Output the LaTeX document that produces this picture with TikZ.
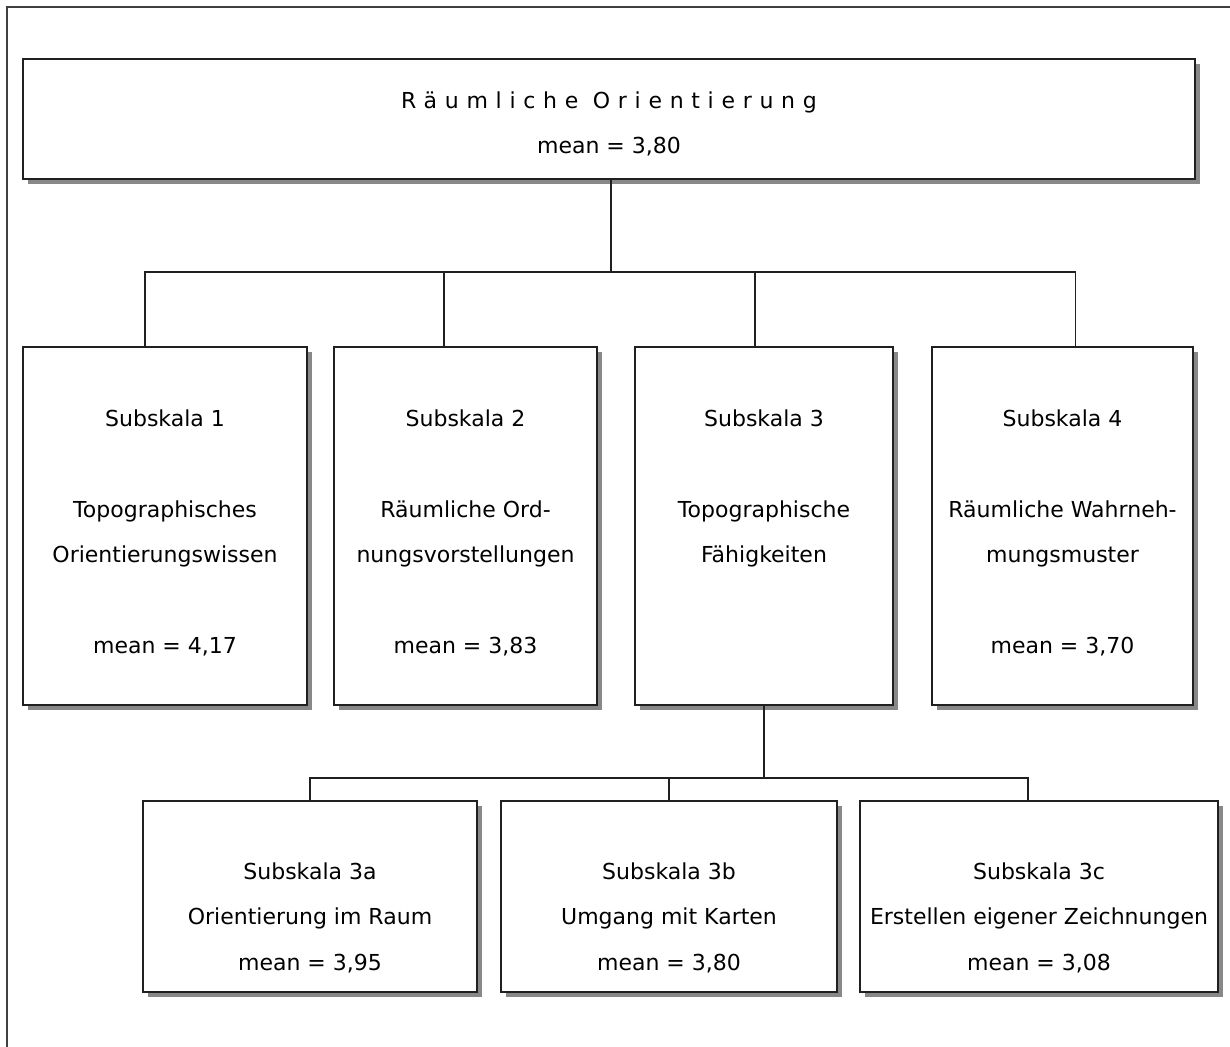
\documentclass[tikz,border=0pt]{standalone}
\usepackage{fontspec}
\setmainfont{DejaVu Sans}
\newfontfamily\spacedfont[LetterSpace=35]{DejaVu Sans}
\usepackage{xcolor}
\definecolor{boxline}{RGB}{32,32,32}
\definecolor{frameline}{RGB}{64,64,64}
\definecolor{shade}{RGB}{136,136,136}
\usetikzlibrary{shadows,positioning}
\newcommand{\topstrut}[1]{\rule{0pt}{#1}}

\begin{document}
\begin{tikzpicture}[x=0.5pt,y=-0.5pt,
        every node/.style={font=\fontsize{11}{22.75}\selectfont},
        scalebox/.style={draw=boxline, line width=0.75pt, fill=white, align=center,
                         inner sep=0pt,
                         drop shadow={shadow xshift=2.5pt, shadow yshift=-2.5pt,
                                      fill=shade, opacity=1}},
        conn/.style={draw=boxline, line width=0.75pt}]
    \useasboundingbox (0,0) rectangle (1230,1047);
    \draw[frameline, line width=0.75pt] (7,1060) -- (7,7) -- (1240,7);

    % top level
    \node[scalebox, minimum width=586pt, minimum height=60pt] (top) at (609,119)
        {\topstrut{13.4pt}{\spacedfont Räumliche Orientierung}\\mean = 3,80};

    % subscales
    \node[scalebox, minimum width=142pt, minimum height=179pt] (s1) at (165,526)
        {\topstrut{15.4pt}Subskala 1\\[\baselineskip]Topographisches\\Orientierungswissen\\[\baselineskip]mean = 4,17};
    \node[scalebox, minimum width=131.5pt, minimum height=179pt] (s2) at (465.5,526)
        {\topstrut{15.4pt}Subskala 2\\[\baselineskip]Räumliche Ord-\\nungsvorstellungen\\[\baselineskip]mean = 3,83};
    \node[scalebox, minimum width=129pt, minimum height=179pt] (s3) at (764,526)
        {\topstrut{15.4pt}Subskala 3\\[\baselineskip]Topographische\\Fähigkeiten\\[\baselineskip]\phantom{mean = 3,00}};
    \node[scalebox, minimum width=130.5pt, minimum height=179pt] (s4) at (1062.5,526)
        {\topstrut{15.4pt}Subskala 4\\[\baselineskip]Räumliche Wahrneh-\\mungsmuster\\[\baselineskip]mean = 3,70};

    % subscale 3 parts
    \node[scalebox, minimum width=167pt, minimum height=95.5pt] (s3a) at (310,896.5)
        {\mbox{}\\[7pt]Subskala 3a\\Orientierung im Raum\\mean = 3,95};
    \node[scalebox, minimum width=168pt, minimum height=95.5pt] (s3b) at (669,896.5)
        {\mbox{}\\[7pt]Subskala 3b\\Umgang mit Karten\\mean = 3,80};
    \node[scalebox, minimum width=179pt, minimum height=95.5pt] (s3c) at (1039,896.5)
        {\mbox{}\\[7pt]Subskala 3c\\Erstellen eigener Zeichnungen\\mean = 3,08};

    \coordinate (j1) at (611,272);
    \coordinate (j2) at (764,778);

    \draw[conn] (top.south -| j1) -- (j1);
    \draw[conn] ([xshift=-10pt]s1.north) |- (j1) -| ([xshift=6.5pt]s4.north);
    \draw[conn] ([xshift=-10.75pt]s2.north) -- ([xshift=-10.75pt]s2.north |- j1);
    \draw[conn] ([xshift=-4.5pt]s3.north) -- ([xshift=-4.5pt]s3.north |- j1);

    \draw[conn] (s3.south) -- (j2);
    \draw[conn] (s3a.north) |- (j2) -| ([xshift=-5.5pt]s3c.north);
    \draw[conn] (s3b.north) -- (s3b.north |- j2);
\end{tikzpicture}
\end{document}
